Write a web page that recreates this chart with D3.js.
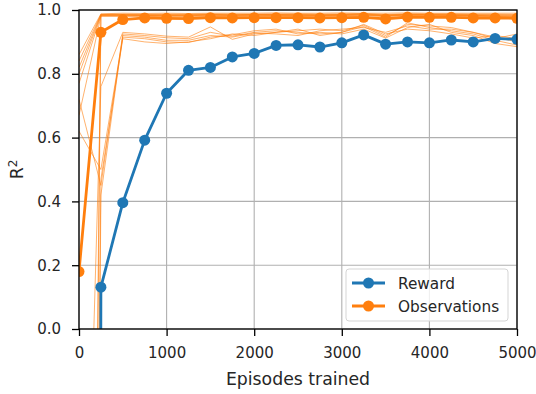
<!DOCTYPE html>
<html>
<head>
<meta charset="utf-8">
<script src="https://cdn.jsdelivr.net/npm/d3@7"></script>
<style>
  body { margin: 0; background: #fff; }
  text { font-family: "DejaVu Sans", sans-serif; fill: #262626; }
</style>
</head>
<body>
<div id="chart"></div>
<script>
// datos
const episodes = [0, 250, 500, 750, 1000, 1250, 1500, 1750, 2000, 2250, 2500, 2750, 3000, 3250, 3500, 3750, 4000, 4250, 4500, 4750, 5000]
const rewardR2 = [-30, 0.131, 0.396, 0.592, 0.739, 0.811, 0.820, 0.853, 0.864, 0.889, 0.891, 0.884, 0.897, 0.922, 0.893, 0.900, 0.897, 0.906, 0.900, 0.911, 0.908]
const obsR2 = [0.18, 0.93, 0.97, 0.975, 0.974, 0.973, 0.976, 0.975, 0.976, 0.976, 0.976, 0.975, 0.976, 0.977, 0.972, 0.978, 0.977, 0.977, 0.975, 0.975, 0.974]

// una linea fina por dimension de la observacion
const dimA = [0.86, 0.988, 0.99, 0.989, 0.99, 0.989, 0.99, 0.99, 0.99, 0.991, 0.99, 0.99, 0.991, 0.99, 0.99, 0.991, 0.99, 0.99, 0.99, 0.99, 0.99]
const dimB = [0.84, 0.986, 0.987, 0.986, 0.987, 0.986, 0.988, 0.987, 0.987, 0.988, 0.988, 0.987, 0.988, 0.989, 0.986, 0.988, 0.988, 0.988, 0.987, 0.987, 0.986]
const dimC = [0.82, 0.985, 0.985, 0.984, 0.985, 0.985, 0.986, 0.985, 0.986, 0.986, 0.986, 0.985, 0.986, 0.987, 0.985, 0.987, 0.986, 0.986, 0.985, 0.985, 0.984]
const dimD = [0.80, 0.984, 0.983, 0.983, 0.982, 0.983, 0.984, 0.983, 0.984, 0.984, 0.984, 0.983, 0.984, 0.985, 0.982, 0.985, 0.984, 0.984, 0.983, 0.982, 0.98]
const dimE = [0.77, 0.982, 0.982, 0.981, 0.981, 0.98, 0.982, 0.981, 0.982, 0.983, 0.982, 0.982, 0.983, 0.984, 0.981, 0.984, 0.983, 0.983, 0.982, 0.98, 0.978]
const dimF = [0.67, 0.98, 0.98, 0.98, 0.979, 0.978, 0.98, 0.98, 0.981, 0.981, 0.98, 0.98, 0.981, 0.982, 0.979, 0.982, 0.981, 0.981, 0.98, 0.978, 0.975]
const dimG = [-5.5, 0.985, 0.986, 0.985, 0.985, 0.984, 0.986, 0.985, 0.986, 0.986, 0.985, 0.985, 0.986, 0.987, 0.984, 0.986, 0.986, 0.985, 0.985, 0.984, 0.983]
const dimH = [-6.5, 0.983, 0.984, 0.983, 0.983, 0.982, 0.984, 0.983, 0.984, 0.984, 0.983, 0.983, 0.984, 0.985, 0.982, 0.985, 0.984, 0.983, 0.983, 0.981, 0.98]
const dimI = [-1.6, 0.76, 0.93, 0.925, 0.918, 0.915, 0.947, 0.908, 0.925, 0.93, 0.935, 0.94, 0.935, 0.952, 0.92, 0.955, 0.95, 0.945, 0.93, 0.915, 0.9]
const dimJ = [0.72, 0.45, 0.925, 0.92, 0.913, 0.91, 0.93, 0.918, 0.93, 0.935, 0.93, 0.925, 0.93, 0.948, 0.915, 0.96, 0.945, 0.935, 0.925, 0.905, 0.89]
const dimK = [-8, 0.42, 0.92, 0.915, 0.905, 0.905, 0.92, 0.915, 0.928, 0.925, 0.92, 0.935, 0.94, 0.945, 0.93, 0.95, 0.94, 0.94, 0.93, 0.91, 0.925]
const dimL = [0.62, 0.5, 0.915, 0.91, 0.9, 0.898, 0.915, 0.922, 0.935, 0.94, 0.925, 0.93, 0.925, 0.94, 0.912, 0.945, 0.955, 0.93, 0.92, 0.895, 0.885]
const dimM = [-6, 0.47, 0.91, 0.9, 0.895, 0.9, 0.91, 0.925, 0.92, 0.93, 0.94, 0.92, 0.93, 0.955, 0.925, 0.94, 0.935, 0.925, 0.912, 0.92, 0.91]
const dims = [dimA, dimB, dimC, dimD, dimE, dimF, dimG, dimH, dimI, dimJ, dimK, dimL, dimM]

const xTicks = [0, 1000, 2000, 3000, 4000, 5000]
const yTicks = [0, 0.2, 0.4, 0.6, 0.8, 1.0]

const blue = "#1f77b4"
const orange = "#ff7f0e"

// boceto
const width = 536
const height = 394
const margin = { top: 10, bottom: 65, left: 79, right: 19 }
const innerW = width - margin.left - margin.right
const innerH = height - margin.top - margin.bottom

const svg = d3.select("#chart")
    .append("svg")
    .attr("width", width)
    .attr("height", height)

const x = d3.scaleLinear().domain([0, 5000]).range([0, innerW])
const y = d3.scaleLinear().domain([0, 1]).range([innerH, 0])

const plot = svg.append("g")
    .attr("transform", `translate(${margin.left}, ${margin.top})`)

svg.append("defs").append("clipPath").attr("id", "clip")
    .append("rect").attr("width", innerW).attr("height", innerH)

// rejilla
const grid = plot.append("g")
grid.selectAll(".vgrid").data(xTicks).enter().append("line")
    .attr("x1", d => x(d)).attr("x2", d => x(d))
    .attr("y1", 0).attr("y2", innerH)
    .attr("stroke", "#b0b0b0").attr("stroke-width", 1.1)
grid.selectAll(".hgrid").data(yTicks).enter().append("line")
    .attr("y1", d => y(d)).attr("y2", d => y(d))
    .attr("x1", 0).attr("x2", innerW)
    .attr("stroke", "#b0b0b0").attr("stroke-width", 1.1)

const lines = plot.append("g").attr("clip-path", "url(#clip)")

const line = d3.line()
    .x((d, i) => x(episodes[i]))
    .y(d => y(d))

lines.selectAll(".dim").data(dims).enter().append("path")
    .attr("class", "dim")
    .attr("d", line)
    .attr("fill", "none")
    .attr("stroke", orange)
    .attr("stroke-width", 1)
    .attr("stroke-opacity", 0.6)

function drawSeries(values, color) {
    lines.append("path")
        .datum(values)
        .attr("d", line)
        .attr("fill", "none")
        .attr("stroke", color)
        .attr("stroke-width", 2.8)
        .attr("stroke-linejoin", "round")
    lines.selectAll(null).data(values).enter().append("circle")
        .attr("cx", (d, i) => x(episodes[i]))
        .attr("cy", d => y(d))
        .attr("r", 5.5)
        .attr("fill", color)
}
drawSeries(obsR2, orange)
drawSeries(rewardR2, blue)

// ejes
const xAxis = d3.axisBottom(x).tickValues(xTicks).tickSize(7).tickPadding(11).tickFormat(d3.format("d"))
const yAxis = d3.axisLeft(y).tickValues(yTicks).tickSize(7).tickPadding(11).tickFormat(d3.format(".1f"))

const xAxisGroup = plot.append("g").attr("transform", `translate(0, ${innerH})`).call(xAxis)
const yAxisGroup = plot.append("g").call(yAxis)
for (const g of [xAxisGroup, yAxisGroup]) {
    g.select(".domain").remove()
    g.selectAll(".tick line").attr("stroke", "#000").attr("stroke-width", 1.3)
    g.selectAll(".tick text").attr("font-size", 15).attr("fill", "#262626")
        .attr("font-family", "DejaVu Sans")
}

plot.append("rect")
    .attr("width", innerW).attr("height", innerH)
    .attr("fill", "none").attr("stroke", "#000").attr("stroke-width", 1.3)

// etiquetas
svg.append("text")
    .attr("x", margin.left + innerW / 2)
    .attr("y", 385)
    .attr("text-anchor", "middle")
    .attr("font-size", 17.3)
    .text("Episodes trained")

const yLabel = svg.append("text")
    .attr("transform", `translate(23, ${margin.top + innerH / 2}) rotate(-90)`)
    .attr("text-anchor", "middle")
    .attr("font-size", 17.3)
yLabel.append("tspan").text("R")
yLabel.append("tspan").attr("dy", -6.5).attr("font-size", 12).text("2")

// leyenda
const legend = svg.append("g").attr("transform", "translate(346, 269)")
legend.append("rect")
    .attr("width", 162).attr("height", 52).attr("rx", 3)
    .attr("fill", "#fff").attr("fill-opacity", 0.8)
    .attr("stroke", "#d5d5d5").attr("stroke-width", 1)

const legendItems = [["Reward", blue], ["Observations", orange]]
legendItems.forEach(([name, color], i) => {
    const ly = 14 + i * 23
    legend.append("line")
        .attr("x1", 6).attr("x2", 39).attr("y1", ly).attr("y2", ly)
        .attr("stroke", color).attr("stroke-width", 2.8)
    legend.append("circle").attr("cx", 22.5).attr("cy", ly).attr("r", 5.5).attr("fill", color)
    legend.append("text")
        .attr("x", 52).attr("y", ly + 5.5)
        .attr("font-size", 15.3)
        .text(name)
})
</script>
</body>
</html>
